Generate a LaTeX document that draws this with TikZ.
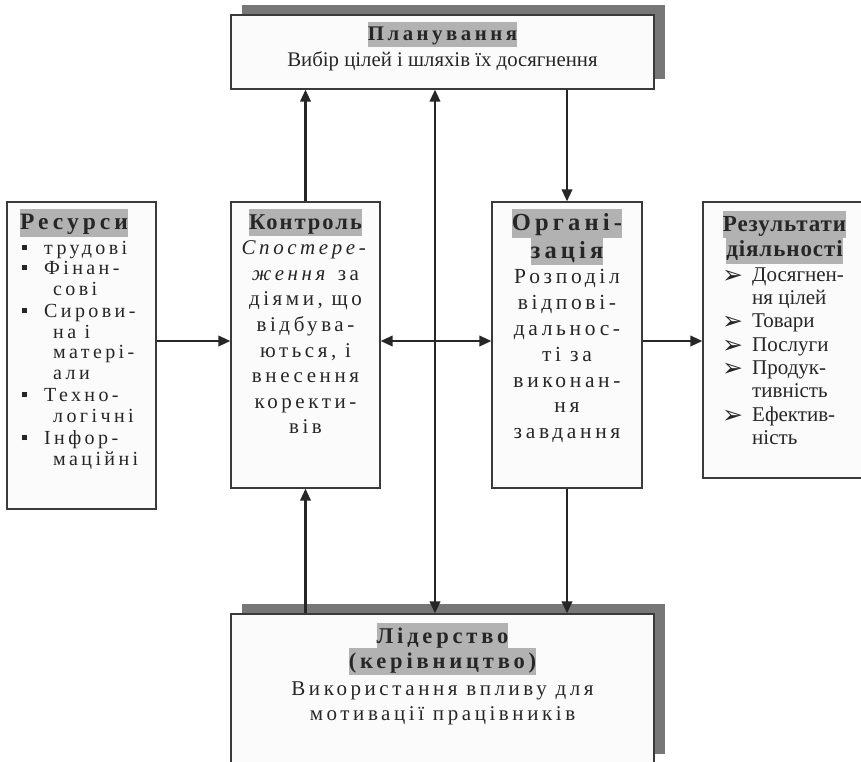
\documentclass[tikz,border=0pt]{standalone}
\usepackage{fontspec}
\setmainfont{Liberation Serif}
\newfontfamily\spaced[LetterSpace=17]{Liberation Serif}
\newfontfamily\spacedlight[LetterSpace=9]{Liberation Serif}
\newfontfamily\spacedthin[LetterSpace=4]{Liberation Serif}
\newfontfamily\symfont{DejaVu Sans}
\usetikzlibrary{arrows.meta,shadows}

\definecolor{boxfill}{HTML}{FBFBFB}
\definecolor{boxline}{HTML}{3A3A3A}
\definecolor{hlgray}{HTML}{B2B2B2}
\definecolor{shade}{HTML}{777777}
\definecolor{ink}{HTML}{262626}

% grey band behind headings
\newcommand\hl[1]{{\setlength{\fboxsep}{0pt}\colorbox{hlgray}{\rule[-0.3em]{0pt}{1.18em}#1}}}
% list markers
\newcommand\sqbul{\rule[0.22em]{5pt}{5pt}}
\newcommand\arrbul{\raisebox{-2pt}{\symfont\fontsize{25}{25}\selectfont ➢}}
% fixes the height of a first line
\newcommand\firstline{\rule{0pt}{16pt}}
% keeps the line pitch fixed even with tall heading bands
\newcommand\tightlines{\lineskiplimit=-50pt\relax}

\tikzset{
  box/.style={draw=boxline, line width=1.3pt, fill=boxfill, rectangle, inner sep=0pt},
  shadowed/.style={drop shadow={shadow xshift=10.5pt, shadow yshift=10.5pt, fill=shade, opacity=1}},
  txt/.style={inner sep=0pt, text=ink},
  tip/.tip={Triangle[length=12pt,width=10.5pt]},
  arr/.style={draw=ink, line width=2.1pt, -tip},
  arrboth/.style={draw=ink, line width=2.1pt, tip-tip},
}

\begin{document}
\begin{tikzpicture}[x=1pt, y=-1pt]
\clip (0,0) rectangle (861,761);
\fill[white] (0,0) rectangle (861,761);

% boxes
\node[box, shadowed, minimum width=423pt, minimum height=74pt] (plan) at (442.5,52) {};
\node[box, minimum width=149pt, minimum height=307pt] (res) at (81.5,355.5) {};
\node[box, minimum width=149pt, minimum height=286pt] (ctrl) at (305.5,345) {};
\node[box, minimum width=150pt, minimum height=286pt] (org) at (567,345) {};
\node[box, minimum width=163pt, minimum height=276pt] (result) at (784.5,340) {};
\node[box, shadowed, minimum width=423pt, minimum height=150pt] (lead) at (442.5,689) {};

% helper coordinates for the connector lines
\coordinate (midrow) at (0,341);
\coordinate (axis) at (435,0);

% planning
\node[txt, anchor=north, align=center, font=\fontsize{20.8}{26}\selectfont\tightlines] (plantext) at (442.5,22)
  {{\spaced\bfseries\hl{Планування}}\\Вибір цілей і шляхів їх досягнення};

% resources
\node[txt, anchor=north west, font=\fontsize{23.5}{26}\selectfont\spaced\bfseries] (restitle) at (20,209) {\hl{Ресурси}};
\node[txt, anchor=north west, align=left, font=\fontsize{20}{20.5}\selectfont\spaced] (reslist) at (22,238)
  {\firstline\makebox[22pt][l]{\sqbul}трудові\\
   \makebox[22pt][l]{\sqbul}Фінан-\\
   \hspace*{31pt}сові\\[2pt]
   \makebox[22pt][l]{\sqbul}Сирови-\\
   \hspace*{31pt}на і\\
   \hspace*{31pt}матері-\\
   \hspace*{31pt}али\\[2pt]
   \makebox[22pt][l]{\sqbul}Техно-\\
   \hspace*{31pt}логічні\\[2pt]
   \makebox[22pt][l]{\sqbul}Інфор-\\
   \hspace*{31pt}маційні};

% control
\node[txt, anchor=north, align=center, font=\fontsize{21}{25.6}\selectfont\spaced\tightlines] (ctrltext) at (305.5,209)
  {{\fontsize{22.5}{25}\selectfont\spacedlight\bfseries\hl{Контроль}}\\
   \textit{Спостере-}\\
   \textit{ження} за\\
   діями, що\\
   відбува-\\
   ються, і\\
   внесення\\
   коректи-\\
   вів};

% organisation
\node[txt, anchor=north, align=center, font=\fontsize{21.5}{25.8}\selectfont\spaced\tightlines] (orgtext) at (567,209)
  {{\fontsize{24.5}{27}\selectfont\bfseries\hl{Органі-}}\\[1.5pt]
   {\fontsize{24.5}{27}\selectfont\bfseries\hl{зація}}\\
   Розподіл\\
   відпові-\\
   дальнос-\\
   ті за\\
   виконан-\\
   ня\\
   завдання};

% results
\node[txt, anchor=north, align=center, font=\fontsize{23}{25.5}\selectfont\spacedthin\bfseries\tightlines] (resulttitle) at (784.5,211)
  {\hl{Результати}\\\hl{діяльності}};
\node[txt, anchor=north west, align=left, font=\fontsize{21}{23.3}\selectfont] (resultlist) at (722,265)
  {\firstline\makebox[30pt][l]{\arrbul}Досягнен-\\
   \hspace*{30pt}ня цілей\\
   \makebox[30pt][l]{\arrbul}Товари\\
   \makebox[30pt][l]{\arrbul}Послуги\\
   \makebox[30pt][l]{\arrbul}Продук-\\
   \hspace*{30pt}тивність\\
   \makebox[30pt][l]{\arrbul}Ефектив-\\
   \hspace*{30pt}ність};

% leadership
\node[txt, anchor=north, align=center, font=\fontsize{21}{25}\selectfont\spaced\tightlines] (leadtext) at (442.5,623)
  {{\fontsize{22.5}{25.5}\selectfont\bfseries\hl{Лідерство}}\\
   {\fontsize{22.5}{25.5}\selectfont\bfseries\hl{(керівництво)}}\\[2pt]
   Використання впливу для\\
   мотивації працівників};

% connectors
\draw[arr] (res.east |- midrow) -- (ctrl.west |- midrow);
\draw[arrboth] (ctrl.east |- midrow) -- (org.west |- midrow);
\draw[arr] (org.east |- midrow) -- (result.west |- midrow);
\draw[arr] (ctrl.north) -- (ctrl.north |- plan.south);
\draw[arr] (org.north |- plan.south) -- (org.north);
\draw[arrboth] (axis |- plan.south) -- (axis |- lead.north);
\draw[arr] (ctrl.south |- lead.north) -- (ctrl.south);
\draw[arr] (org.south) -- (org.south |- lead.north);
\end{tikzpicture}
\end{document}
